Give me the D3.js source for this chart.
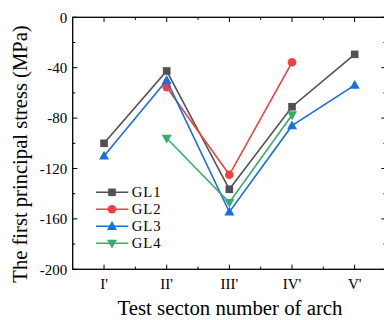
<!DOCTYPE html>
<html><head><meta charset="utf-8">
<script src="https://cdn.jsdelivr.net/npm/d3@7/dist/d3.min.js"></script>
<style>body{margin:0;background:#fff}svg{display:block}</style>
</head><body>
<script>
const categories = ["I'", "II'", "III'", "IV'", "V'"];
const seriesNames = ["GL1", "GL2", "GL3", "GL4"];
const GL1 = [-100, -42.6, -136.5, -71, -29.4];
const GL2 = [null, -55.5, -125, -35.7, null];
const GL3 = [-110, -50, -154.5, -86, -53.8];
const GL4 = [null, -96, -147, -77.5, null];
const yTicks = [0, -40, -80, -120, -160, -200];
const colors = ["#515151", "#F14040", "#1A6FDF", "#37AD6B"];
const symbols = ["square", "circle", "triUp", "triDown"];
const seriesData = [GL1, GL2, GL3, GL4];

const W = 384, H = 320;
const m = {l: 72.7, t: 17.3, r: 386, b: 269.3};
const svg = d3.select("body").append("svg").attr("width", W).attr("height", H);
const font = "'Liberation Serif','Times New Roman',serif";

const x = d3.scaleLinear().domain([0.5, 5.5]).range([m.l, m.r]);
const y = d3.scaleLinear().domain([-200, 0]).range([m.b, m.t]);

// frame
svg.append("rect").attr("x", m.l).attr("y", m.t).attr("width", m.r - m.l).attr("height", m.b - m.t)
  .attr("fill", "none").attr("stroke", "#000").attr("stroke-width", 1.3);

const catIdx = categories.map((c, i) => i + 1);
const minorX = d3.range(1.5, 5.5, 1);
const minorY = d3.range(-180, 0, 40);
const tk = 4.7, mk = 2.6;
const g = svg.append("g").attr("stroke", "#000").attr("stroke-width", 1);
catIdx.forEach(v => {
  g.append("line").attr("x1", x(v)).attr("x2", x(v)).attr("y1", m.b).attr("y2", m.b - tk);
  g.append("line").attr("x1", x(v)).attr("x2", x(v)).attr("y1", m.t).attr("y2", m.t + tk);
});
minorX.forEach(v => {
  g.append("line").attr("x1", x(v)).attr("x2", x(v)).attr("y1", m.b).attr("y2", m.b - mk);
  g.append("line").attr("x1", x(v)).attr("x2", x(v)).attr("y1", m.t).attr("y2", m.t + mk);
});
yTicks.forEach(v => {
  g.append("line").attr("y1", y(v)).attr("y2", y(v)).attr("x1", m.l).attr("x2", m.l + tk);
  g.append("line").attr("y1", y(v)).attr("y2", y(v)).attr("x1", m.r).attr("x2", m.r - tk);
});
minorY.forEach(v => {
  g.append("line").attr("y1", y(v)).attr("y2", y(v)).attr("x1", m.l).attr("x2", m.l + mk);
  g.append("line").attr("y1", y(v)).attr("y2", y(v)).attr("x1", m.r).attr("x2", m.r - mk);
});

// tick labels
svg.append("g").selectAll("text").data(yTicks).join("text")
  .attr("x", m.l - 5.5).attr("y", d => y(d)).attr("dy", "0.35em").attr("text-anchor", "end")
  .attr("font-family", font).attr("font-size", 15).text(d => d);
svg.append("g").selectAll("text").data(categories).join("text")
  .attr("x", (d, i) => x(i + 1)).attr("y", 288.5).attr("text-anchor", "middle")
  .attr("font-family", font).attr("font-size", 15).text(d => d);

// axis titles
svg.append("text").attr("x", 230).attr("y", 314.5).attr("text-anchor", "middle")
  .attr("font-family", font).attr("font-size", 20.8).text("Test secton number of arch");
svg.append("text").attr("transform", "translate(27,154) rotate(-90)").attr("text-anchor", "middle")
  .attr("font-family", font).attr("font-size", 20.6).text("The first principal stress (MPa)");

function marker(sel, type, cx, cy, color) {
  if (type === "square") sel.append("rect").attr("x", cx - 3.8).attr("y", cy - 3.8).attr("width", 7.6).attr("height", 7.6).attr("fill", color);
  else if (type === "circle") sel.append("circle").attr("cx", cx).attr("cy", cy).attr("r", 4.3).attr("fill", color);
  else if (type === "triUp") sel.append("path").attr("d", `M${cx},${cy - 5.2}L${cx + 5},${cy + 3.6}L${cx - 5},${cy + 3.6}Z`).attr("fill", color);
  else sel.append("path").attr("d", `M${cx},${cy + 5.2}L${cx + 5},${cy - 3.6}L${cx - 5},${cy - 3.6}Z`).attr("fill", color);
}

const line = d3.line().defined(d => d.v !== null).x(d => x(d.i)).y(d => y(d.v));
seriesData.forEach((arr, s) => {
  const pts = arr.map((v, i) => ({i: i + 1, v}));
  const gs = svg.append("g");
  gs.append("path").attr("d", line(pts)).attr("fill", "none").attr("stroke", colors[s]).attr("stroke-width", 1.6);
  pts.filter(p => p.v !== null).forEach(p => marker(gs, symbols[s], x(p.i), y(p.v), colors[s]));
});

// legend
seriesNames.forEach((n, s) => {
  const ly = 192.3 + s * 17;
  const lg = svg.append("g");
  lg.append("line").attr("x1", 96).attr("x2", 128.3).attr("y1", ly).attr("y2", ly).attr("stroke", colors[s]).attr("stroke-width", 1.6);
  marker(lg, symbols[s], 112, ly, colors[s]);
  lg.append("text").attr("x", 131.7).attr("y", ly).attr("dy", "0.35em").attr("font-family", font)
    .attr("font-size", 14.7).attr("letter-spacing", 1).text(n);
});
</script>
</body></html>
